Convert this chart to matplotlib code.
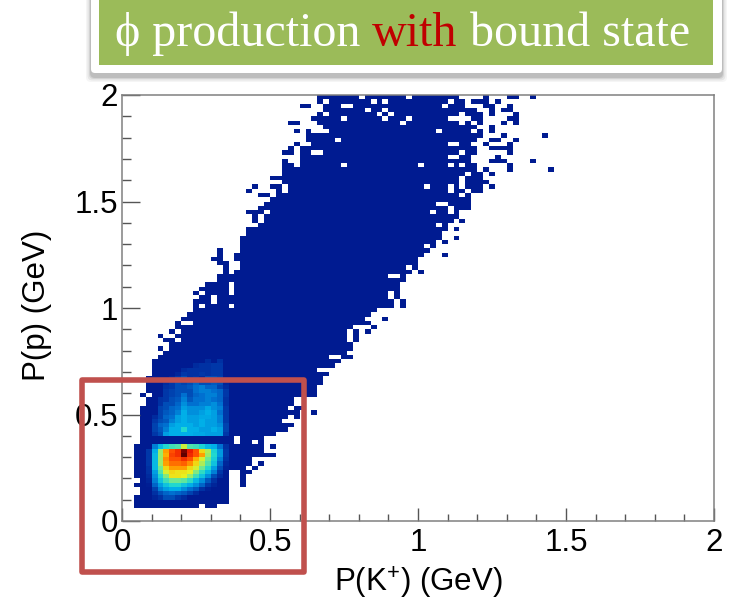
import numpy as np
import matplotlib
matplotlib.use('Agg')
import matplotlib.pyplot as plt
from matplotlib.colors import LinearSegmentedColormap
from matplotlib.patches import FancyBboxPatch, Rectangle

plt.rcParams['font.family'] = 'Liberation Sans'
plt.rcParams['mathtext.fontset'] = 'custom'
plt.rcParams['mathtext.rm'] = 'Liberation Sans'
plt.rcParams['mathtext.default'] = 'regular'

# 100 x 100 bins over 0-2 GeV, filled rows start at bin 3
n_bins = 100
first_row = 3
row_start = [2, 2, 2, 3, 3, 2, 3, 2, 2, 2, 2, 2, 2, 2, 2, 3, 3, 3, 3, 3, 3, 3, 3, 3, 4, 4, 3, 4, 4, 4, 4,
             5, 5, 6, 5, 6, 7, 8, 8, 10, 9, 10, 9, 12, 10, 11, 12, 14, 12, 13, 14, 13, 14, 16, 16, 19, 20,
             20, 19, 19, 20, 20, 20, 20, 21, 21, 23, 24, 24, 25, 23, 24, 25, 26, 28, 28, 27, 25, 27, 27, 27,
             30, 30, 30, 30, 32, 31, 31, 35, 34, 33, 32, 33, 34, 34, 33, 33]
row_end = [13, 18, 18, 18, 18, 18, 18, 18, 18, 21, 22, 22, 26, 24, 24, 22, 24, 26, 28, 29, 27, 28, 30, 28, 29, 29,
           33, 33, 33, 34, 34, 35, 33, 36, 37, 39, 38, 39, 39, 40, 40, 40, 39, 42, 41, 42, 43, 46, 46, 45, 45,
           47, 47, 48, 48, 49, 50, 50, 50, 51, 52, 53, 53, 54, 54, 55, 55, 56, 57, 57, 59, 59, 59, 59, 61, 61,
           62, 61, 61, 60, 60, 59, 59, 60, 60, 59, 60, 61, 61, 60, 61, 55, 61, 60, 58, 58, 57]
hole_bins = {18: [19], 19: [19], 29: [4], 38: [35, 36], 42: [38], 43: [38], 44: [38], 50: [18], 51: [15],
             52: [15], 53: [18], 54: [18], 55: [18], 57: [45, 46], 59: [48], 64: [51], 69: [53], 72: [52, 55],
             73: [55], 74: [53, 54], 76: [57], 77: [55, 58], 78: [51, 55, 57], 79: [57], 80: [57], 81: [58],
             83: [29, 37, 50, 55, 57], 85: [55, 56], 86: [32, 33, 57], 88: [55, 56], 89: [36], 91: [53, 59],
             93: [47, 57, 59], 94: [37, 44, 48], 95: [34, 43, 45, 57], 96: [41, 44], 97: [37, 38, 54],
             98: [34, 42, 44, 55], 99: [40, 48]}
lone_bins = {3: [14, 15], 8: [20], 9: [20], 10: [20], 11: [20, 21], 12: [22], 13: [23], 17: [25], 18: [23],
             24: [29], 25: [32], 26: [29, 30], 40: [6], 42: [7, 8], 43: [6], 44: [8, 41], 45: [42], 46: [9],
             47: [44], 50: [12, 47], 51: [47], 52: [46], 53: [12, 46], 58: [17, 50], 59: [17], 60: [16, 17],
             61: [15, 16], 62: [16, 54], 63: [16], 65: [54], 66: [56], 68: [56], 70: [22, 57], 71: [22],
             72: [21, 22, 23], 76: [23, 24], 77: [21, 26], 78: [22, 25, 26, 62], 81: [62], 82: [61, 65, 72],
             83: [65], 84: [27, 62, 63, 64, 69], 85: [63], 86: [27, 28, 65], 87: [28, 62, 63, 64, 65],
             88: [29, 61, 65], 89: [62, 63, 66], 90: [64, 71], 91: [29, 31, 62], 92: [62], 93: [28, 29, 64, 66],
             94: [59, 60, 65, 66], 95: [62, 66], 96: [62, 64, 65], 97: [30, 31, 61, 62, 65],
             98: [59, 60, 61, 63], 99: [61, 65, 66, 69]}

# lower peak, rows 5-17, x bins 4-17
peak_row0 = 5
peak_col0 = 4
peak_counts = [
    [1, 4, 8, 14, 14, 10, 6, 1, 1, 1, 1, 1, 1, 1],
    [1, 8, 14, 18, 20, 18, 16, 12, 6, 1, 1, 1, 1, 1],
    [1, 12, 22, 26, 28, 28, 24, 20, 16, 8, 3, 1, 1, 1],
    [2, 18, 26, 32, 36, 36, 32, 28, 24, 18, 10, 4, 1, 1],
    [4, 22, 32, 40, 46, 46, 44, 38, 30, 24, 16, 8, 1, 1],
    [6, 24, 36, 48, 60, 60, 58, 50, 40, 32, 24, 14, 6, 1],
    [8, 26, 42, 56, 62, 60, 60, 58, 48, 38, 30, 22, 10, 1],
    [8, 30, 46, 62, 70, 70, 70, 62, 56, 46, 36, 26, 14, 3],
    [10, 30, 50, 70, 76, 76, 78, 72, 62, 52, 42, 32, 18, 5],
    [10, 30, 50, 72, 80, 80, 85, 80, 68, 56, 46, 34, 22, 8],
    [10, 30, 50, 68, 82, 85, 100, 86, 80, 70, 50, 36, 25, 10],
    [10, 28, 50, 70, 80, 85, 98, 88, 80, 62, 52, 35, 25, 10],
    [1, 22, 30, 36, 40, 42, 55, 42, 40, 35, 30, 28, 20, 8],
]

# upper band, rows 20-37, x bins 5-17
band_row0 = 20
band_col0 = 5
band_counts = [
    [10, 14, 26, 28, 28, 28, 28, 27, 27, 26, 26, 26, 10],
    [12, 16, 22, 28, 28, 36, 28, 28, 26, 26, 28, 26, 12],
    [12, 18, 20, 26, 28, 28, 28, 26, 28, 26, 26, 24, 12],
    [10, 14, 16, 22, 26, 28, 26, 26, 28, 26, 26, 22, 10],
    [6, 12, 18, 20, 26, 28, 26, 26, 27, 27, 26, 22, 10],
    [1, 12, 16, 18, 22, 28, 24, 24, 26, 28, 26, 20, 10],
    [1, 12, 14, 18, 20, 26, 24, 24, 24, 27, 24, 22, 10],
    [1, 8, 14, 14, 18, 24, 20, 20, 22, 22, 24, 20, 8],
    [1, 8, 10, 14, 16, 22, 16, 20, 20, 22, 20, 18, 8],
    [1, 1, 10, 12, 14, 20, 14, 18, 20, 22, 22, 18, 10],
    [1, 1, 10, 12, 14, 14, 14, 20, 22, 22, 20, 18, 10],
    [1, 1, 8, 10, 14, 14, 16, 20, 22, 18, 18, 12, 6],
    [1, 1, 6, 10, 14, 12, 14, 18, 14, 14, 16, 14, 4],
    [1, 1, 1, 4, 10, 14, 8, 10, 6, 14, 14, 12, 1],
    [1, 1, 1, 1, 4, 10, 8, 8, 10, 8, 10, 10, 1],
    [1, 1, 1, 1, 1, 6, 8, 8, 8, 8, 10, 10, 1],
    [1, 1, 1, 1, 1, 1, 1, 6, 8, 8, 10, 10, 1],
    [1, 1, 1, 1, 1, 1, 1, 1, 1, 6, 1, 8, 1],
]

x_major = [0, 0.5, 1, 1.5, 2]
y_major = [0, 0.5, 1, 1.5, 2]
x_tick_labels = ['0', '0.5', '1', '1.5', '2']
y_tick_labels = ['0', '0.5', '1', '1.5', '2']

# fill the histogram
counts = np.full((n_bins, n_bins), np.nan)
for k in range(len(row_start)):
    counts[first_row + k, row_start[k]:row_end[k]] = 1
for row, bins in hole_bins.items():
    counts[row, bins] = np.nan
for row, bins in lone_bins.items():
    counts[row, bins] = 1
for k, vals in enumerate(peak_counts):
    counts[peak_row0 + k, peak_col0:peak_col0 + len(vals)] = vals
for k, vals in enumerate(band_counts):
    counts[band_row0 + k, band_col0:band_col0 + len(vals)] = vals

palette = LinearSegmentedColormap.from_list('root', [
    (0.00, '#00188f'), (0.10, '#0038a8'), (0.20, '#0070d0'), (0.28, '#00b0e8'), (0.36, '#20d8d0'),
    (0.46, '#70e890'), (0.58, '#e8f020'), (0.68, '#ffb000'), (0.80, '#ff5000'), (0.90, '#e81000'),
    (1.00, '#600000')])

fig = plt.figure(figsize=(7.3, 6.01), dpi=100)
ax = fig.add_axes([122 / 730, 1 - 521 / 601, 592 / 730, 426 / 601])
edges = np.linspace(0, 2, n_bins + 1)
ax.pcolormesh(edges, edges, counts, cmap=palette, vmin=0, vmax=100)
ax.set_xlim(0, 2)
ax.set_ylim(0, 2)
for s in ax.spines.values():
    s.set_color('#808080')
    s.set_linewidth(1.1)

ax.set_xticks(x_major)
ax.set_xticklabels(x_tick_labels)
ax.set_yticks(y_major)
ax.set_yticklabels(y_tick_labels)
ax.xaxis.set_minor_locator(plt.MultipleLocator(0.1))
ax.yaxis.set_minor_locator(plt.MultipleLocator(0.1))
ax.tick_params(axis='x', which='major', direction='in', length=9.5, width=1, color='#555555', labelsize=22.5, pad=5)
ax.tick_params(axis='x', which='minor', direction='in', length=5, width=1, color='#555555')
ax.tick_params(axis='y', which='major', direction='in', length=13, width=1, color='#555555', labelsize=22.5, pad=3)
ax.tick_params(axis='y', which='minor', direction='in', length=6.5, width=1, color='#555555')
ax.set_xlabel('P(K$^{+}$) (GeV)', fontsize=22.5, ha='right')
ax.xaxis.set_label_coords(381 / 592, -0.103)
ax.set_ylabel('P(p) (GeV)', fontsize=22.5)
ax.yaxis.set_label_coords(-0.119, 0.507)

# slide furniture in pixel coordinates on top of the plot
over = fig.add_axes([0, 0, 1, 1], facecolor='none')
over.set_xlim(0, 730)
over.set_ylim(601, 0)
over.axis('off')

for grow, alpha in [(5, 0.04), (3.5, 0.06), (2, 0.08), (1, 0.10)]:
    over.add_patch(FancyBboxPatch((91 - grow, -20), 631 + 2 * grow, 97 + grow, boxstyle='round,pad=0,rounding_size=5',
                                  fc='black', ec='none', alpha=alpha))
over.add_patch(FancyBboxPatch((91, -20), 631, 93, boxstyle='round,pad=0,rounding_size=4', fc='white', ec='none'))
over.add_patch(Rectangle((99, -5), 614, 70, fc='#9BBB59', ec='none'))

# title pieces set one after the other
cursor = 115
rend = fig.canvas.get_renderer()
for piece, col in [('ϕ production ', 'white'), ('with', '#C00000'), (' bound state', 'white')]:
    over.text(cursor, 46, piece, family='Liberation Serif', fontsize=34.6, color=col, va='baseline', ha='left')
    probe = over.text(0, 0, piece.replace(' ', '\u00a0'), family='Liberation Serif', fontsize=34.6, alpha=0)
    cursor += probe.get_window_extent(rend).width
    probe.remove()

over.add_patch(Rectangle((82, 380), 222, 192, fc='none', ec='#C0504D', lw=4, joinstyle='round'))

fig.savefig('out.png', dpi=100)
